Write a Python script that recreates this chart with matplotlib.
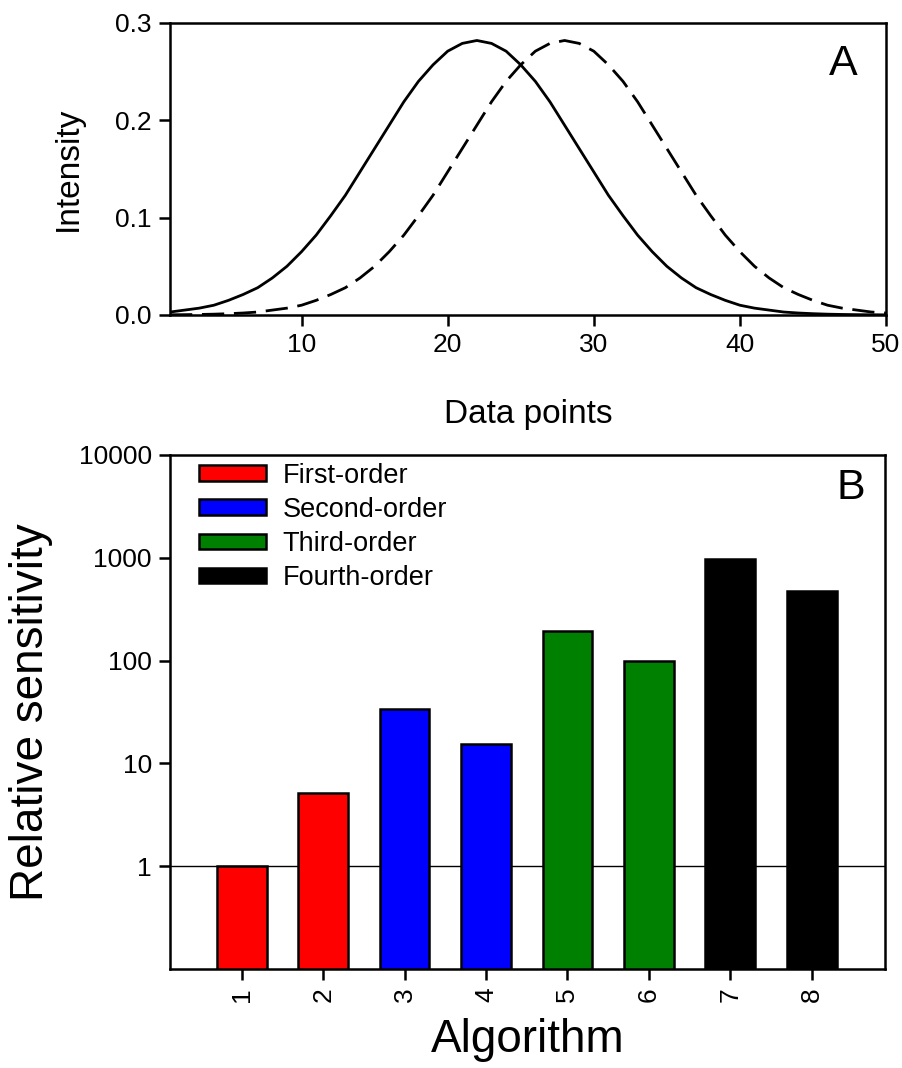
import matplotlib
matplotlib.use('Agg')
import matplotlib.pyplot as plt
from matplotlib.ticker import FixedLocator, NullLocator

plt.rcParams['font.family'] = ['Liberation Sans', 'DejaVu Sans']

# panel A: two peaks, read at every data point
data_points = list(range(1, 51))
peak_solid = [0.003, 0.005, 0.007, 0.010, 0.015, 0.021, 0.028, 0.038, 0.050, 0.065,
              0.082, 0.102, 0.123, 0.147, 0.171, 0.195, 0.219, 0.240, 0.257, 0.271,
              0.279, 0.282, 0.279, 0.271, 0.257, 0.240, 0.219, 0.195, 0.171, 0.147,
              0.123, 0.102, 0.082, 0.065, 0.050, 0.038, 0.028, 0.021, 0.015, 0.010,
              0.007, 0.005, 0.003, 0.002, 0.0013, 0.0008, 0.0005, 0.0003, 0.0002, 0.0001]
peak_dashed = [0.0002, 0.0003, 0.0005, 0.0008, 0.0013, 0.002, 0.003, 0.005, 0.007, 0.010,
               0.015, 0.021, 0.028, 0.038, 0.050, 0.065, 0.082, 0.102, 0.123, 0.147,
               0.171, 0.195, 0.219, 0.240, 0.257, 0.271, 0.279, 0.282, 0.279, 0.271,
               0.257, 0.240, 0.219, 0.195, 0.171, 0.147, 0.123, 0.102, 0.082, 0.065,
               0.050, 0.038, 0.028, 0.021, 0.015, 0.010, 0.007, 0.005, 0.003, 0.002]

# panel B: relative sensitivity per algorithm
algorithms = [1, 2, 3, 4, 5, 6, 7, 8]
sensitivity = [1, 5.1, 34, 15.3, 195, 100, 970, 478]
orders = ['First-order', 'First-order', 'Second-order', 'Second-order',
          'Third-order', 'Third-order', 'Fourth-order', 'Fourth-order']
order_names = ['First-order', 'Second-order', 'Third-order', 'Fourth-order']
order_colors = ['#ff0000', '#0000ff', '#008000', '#000000']

fig = plt.figure(figsize=(9.03, 10.68), dpi=100)

# ---- panel A
ax1 = fig.add_axes([0.1883, 0.7051, 0.7929, 0.2734])
ax1.plot(data_points, peak_solid, color='black', lw=2)
ax1.plot(data_points, peak_dashed, color='black', lw=2, dashes=(8, 3.5))
ax1.set_xlim(1, 50)
ax1.set_ylim(0, 0.3)
ax1.xaxis.set_major_locator(FixedLocator([10, 20, 30, 40, 50]))
ax1.yaxis.set_major_locator(FixedLocator([0.0, 0.1, 0.2, 0.3]))
ax1.set_yticklabels(['0.0', '0.1', '0.2', '0.3'])
ax1.tick_params(direction='out', length=8, width=1.8, labelsize=19, pad=5)
for s in ax1.spines.values():
    s.set_linewidth(1.8)
ax1.set_xlabel('Data points', fontsize=24)
ax1.set_ylabel('Intensity', fontsize=24)
ax1.xaxis.set_label_coords(0.5, -0.342)
ax1.xaxis.label.set_va('center')
ax1.yaxis.set_label_coords(-0.142, 0.5)
ax1.yaxis.label.set_va('center')
ax1.text(0.94, 0.86, 'A', transform=ax1.transAxes, fontsize=31, ha='center', va='center')

# ---- panel B
ax2 = fig.add_axes([0.1883, 0.0927, 0.7918, 0.4813])
ax2.set_yscale('log')
ax2.axhline(1, color='black', lw=1.0, zorder=1)
bar_colors = [order_colors[order_names.index(o)] for o in orders]
ax2.bar(algorithms, sensitivity, width=0.61, color=bar_colors,
        edgecolor='black', linewidth=1.8, zorder=2)
ax2.set_xlim(0.12, 8.9)
ax2.set_ylim(0.1, 10000)
ax2.xaxis.set_major_locator(FixedLocator(algorithms))
ax2.set_xticklabels([str(a) for a in algorithms], rotation=90)
ax2.yaxis.set_major_locator(FixedLocator([1, 10, 100, 1000, 10000]))
ax2.set_yticklabels(['1', '10', '100', '1000', '10000'])
ax2.yaxis.set_minor_locator(NullLocator())
ax2.tick_params(direction='out', length=8, width=1.8, labelsize=19, pad=5)
for s in ax2.spines.values():
    s.set_linewidth(1.8)
ax2.set_xlabel('Algorithm', fontsize=33)
ax2.set_ylabel('Relative sensitivity', fontsize=33)
ax2.xaxis.set_label_coords(0.5, -0.138)
ax2.xaxis.label.set_va('center')
ax2.yaxis.set_label_coords(-0.195, 0.5)
ax2.yaxis.label.set_va('center')
ax2.text(0.952, 0.935, 'B', transform=ax2.transAxes, fontsize=31, ha='center', va='center')

handles = [plt.Rectangle((0, 0), 1, 1, facecolor=c, edgecolor='black', linewidth=1.8)
           for c in order_colors]
ax2.legend(handles, order_names, loc='upper left', bbox_to_anchor=(0.04, 0.985),
           frameon=False, fontsize=19.5, handlelength=2.5, handleheight=0.5,
           handletextpad=0.6, labelspacing=0.3, borderpad=0, borderaxespad=0)

fig.savefig('out.png', dpi=100)
